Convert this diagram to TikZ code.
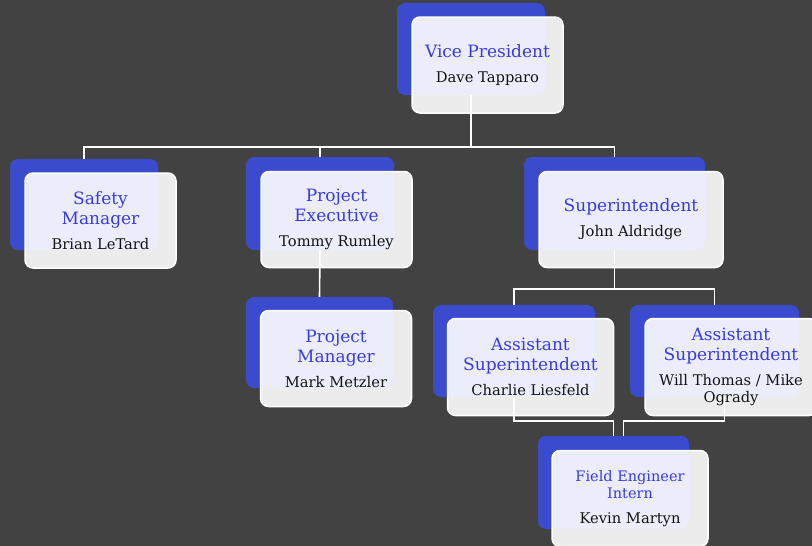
\documentclass[tikz,border=0pt]{standalone}
\usepackage{fontspec}
\setmainfont{DejaVu Serif}
\usetikzlibrary{calc}
\definecolor{bgcol}{HTML}{424242}
\definecolor{backblue}{HTML}{3B4BCD}
\definecolor{rolecol}{HTML}{3A3AE0}
\definecolor{namecol}{HTML}{141414}
\newcommand{\rl}[1]{{\color{rolecol}#1}}
\newcommand{\nm}[1]{{\color{namecol}\fontsize{14.7}{17}\selectfont #1}}

\begin{document}
\begin{tikzpicture}[x=1pt, y=-1pt,
    back/.style={fill=backblue, rounded corners=8pt, inner sep=0pt},
    card/.style={draw=white, line width=1.5pt, fill=white, fill opacity=0.9, text opacity=1,
      rounded corners=8pt, align=center, inner sep=0pt, font=\fontsize{17}{20}\selectfont},
    link/.style={draw=white, line width=1.6pt}]
  \fill[bgcol] (0,0) rectangle (812,546);
  \useasboundingbox (0,0) rectangle (812,546);

  % blue back cards
  \node[back, minimum width=148pt, minimum height=92pt] (vpb) at (471,49) {};
  \node[back, minimum width=148pt, minimum height=91pt] (safetyb) at (84,204.5) {};
  \node[back, minimum width=148pt, minimum height=93pt] (pexecb) at (320,203.5) {};
  \node[back, minimum width=181pt, minimum height=93pt] (suptb) at (614.5,203.5) {};
  \node[back, minimum width=147pt, minimum height=91pt] (pmanb) at (319.5,342.5) {};
  \node[back, minimum width=162pt, minimum height=92pt] (asst1b) at (514,351) {};
  \node[back, minimum width=169pt, minimum height=92pt] (asst2b) at (714.5,351) {};
  \node[back, minimum width=151pt, minimum height=93pt] (feib) at (613.5,482.5) {};

  % connectors
  \coordinate (lev1) at ($(vpb.south)+(0,52)$);
  \draw[link] (vpb.south) -- (lev1) -| (safetyb.north);
  \draw[link] (lev1) -| (pexecb.north);
  \draw[link] (lev1) -| (suptb.north);
  \draw[link] (pexecb.south) -- (pmanb.north);
  \coordinate (lev2) at ($(suptb.south)+(0,39)$);
  \draw[link] (suptb.south) -- (lev2) -| (asst1b.north);
  \draw[link] (lev2) -| (asst2b.north);
  \draw[link] (asst1b.south) -- ++(0,24) -| (feib.north);
  \draw[link] ([xshift=10pt]asst2b.south) -- ++(0,24) -| ([xshift=10pt]feib.north);

  % white cards
  \node[card, minimum width=151pt, minimum height=96pt] (vp) at ($(vpb)+(16.5,16)$)
    {\rl{Vice President}\\[5pt]\nm{Dave Tapparo}};
  \node[card, minimum width=151pt, minimum height=95pt] (safety) at ($(safetyb)+(16.5,16)$)
    {\rl{Safety}\\\rl{Manager}\\[5pt]\nm{Brian LeTard}};
  \node[card, minimum width=151pt, minimum height=96pt] (pexec) at ($(pexecb)+(16.5,16)$)
    {\rl{Project}\\\rl{Executive}\\[5pt]\nm{Tommy Rumley}};
  \node[card, minimum width=184pt, minimum height=96pt] (supt) at ($(suptb)+(16.5,16)$)
    {\rl{Superintendent}\\[5pt]\nm{John Aldridge}};
  \node[card, minimum width=151pt, minimum height=96pt] (pman) at ($(pmanb)+(16.5,16)$)
    {\rl{Project}\\\rl{Manager}\\[5pt]\nm{Mark Metzler}};
  \node[card, minimum width=166pt, minimum height=97pt] (asst1) at ($(asst1b)+(16.5,16)$)
    {\rl{Assistant}\\\rl{Superintendent}\\[5pt]\nm{Charlie Liesfeld}};
  \node[card, minimum width=172pt, minimum height=97pt] (asst2) at ($(asst2b)+(16.5,16)$)
    {\rl{Assistant}\\\rl{Superintendent}\\[5pt]\nm{Will Thomas / Mike}\\[-3pt]\nm{Ogrady}};
  \node[card, minimum width=156pt, minimum height=96pt, font=\fontsize{14.5}{17}\selectfont]
    (fei) at ($(feib)+(16.5,16)$)
    {\rl{Field Engineer}\\\rl{Intern}\\[8pt]\nm{Kevin Martyn}};
\end{tikzpicture}
\end{document}
